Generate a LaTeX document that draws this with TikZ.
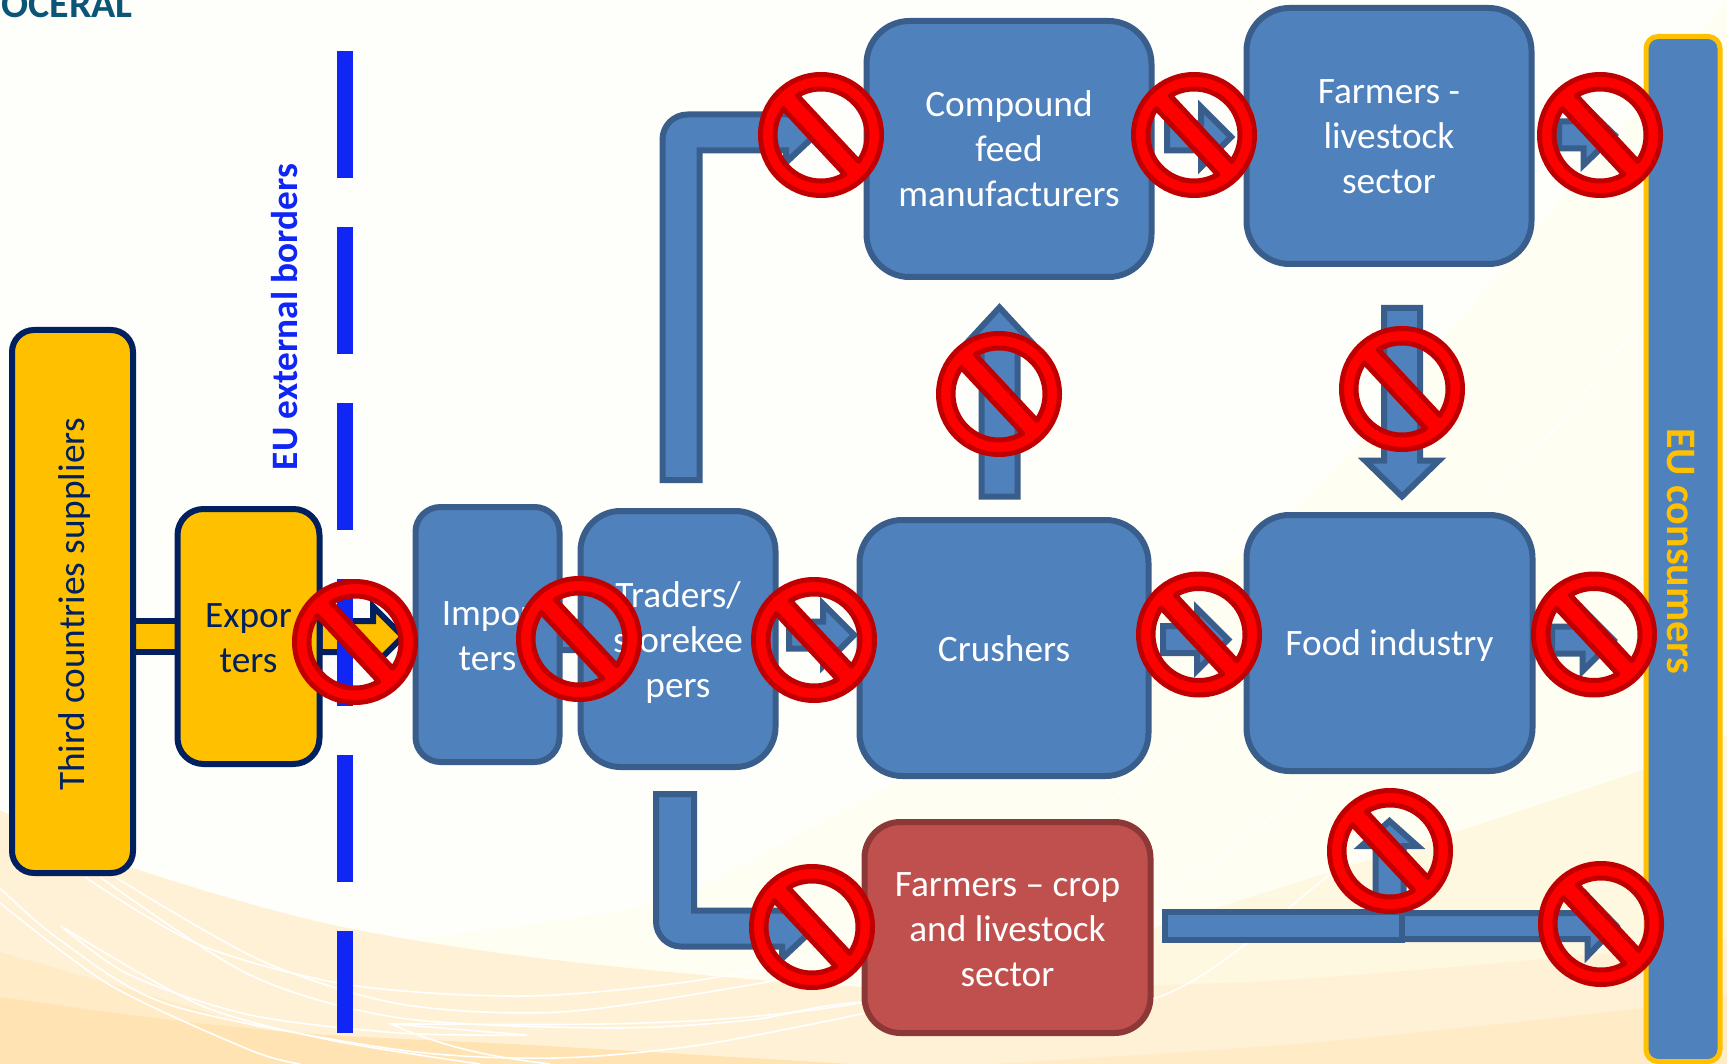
\documentclass[tikz,border=0pt]{standalone}
\usepackage{fontspec}
\setmainfont{Carlito}
\usetikzlibrary{calc}
\pgfdeclarelayer{backdrop}
\pgfdeclarelayer{conn}
\pgfsetlayers{backdrop,conn,main}
\definecolor{bgbase}{HTML}{FEFEFB}
\definecolor{bgd}{HTML}{FFFEF3}
\definecolor{bge}{HTML}{FFF8E0}
\definecolor{bgf}{HTML}{FFF1D6}
\definecolor{bgga}{HTML}{FFEBC6}
\definecolor{bggb}{HTML}{FFE3B3}
\definecolor{boxblue}{HTML}{4F81BD}
\definecolor{boxedge}{HTML}{3A5E8C}
\definecolor{gold}{HTML}{FFC000}
\definecolor{navy}{HTML}{002060}
\definecolor{cropred}{HTML}{C0504D}
\definecolor{cropedge}{HTML}{8C3836}
\definecolor{borderblue}{HTML}{1026F5}
\definecolor{logoteal}{HTML}{0B5577}
\definecolor{signred}{HTML}{FF0000}
\definecolor{signedge}{HTML}{C00000}
\tikzset{
  txt/.style={font=\fontsize{37.3}{45}\selectfont,align=center,inner sep=0pt,outer sep=0pt},
  bluebox/.style={inner sep=0pt,outer sep=0pt,draw=boxedge,fill=boxblue,line width=6pt},
  goldbox/.style={inner sep=0pt,outer sep=0pt,draw=navy,fill=gold,line width=6pt},
  redbox/.style={inner sep=0pt,outer sep=0pt,draw=cropedge,fill=cropred,line width=6pt},
  whitetxt/.style={txt,text=white,fill=none,draw=none},
  navytxt/.style={txt,text=navy,fill=none,draw=none},
  flow/.style={draw=boxedge,fill=boxblue,line width=6pt,miter limit=10},
  goldflow/.style={draw=navy,fill=gold,line width=6pt,miter limit=10},
  dashseg/.style={fill=borderblue},
  nosign/.style={draw=signedge,fill=signred,line width=5pt,line join=round,even odd rule},
  swoosh/.style={draw=white,line width=1.6pt},
}
% block arrows: start, tip, shaft half width, head half width, head length
\newcommand\arrowR[6][flow]{\draw[#1] let \p1=#2,\p2=#3 in
  (\x1,\y1+#4pt) -- (\x2-#6pt,\y1+#4pt) -- (\x2-#6pt,\y1+#5pt) -- (\x2,\y1) --
  (\x2-#6pt,\y1-#5pt) -- (\x2-#6pt,\y1-#4pt) -- (\x1,\y1-#4pt) -- cycle;}
\newcommand\arrowU[5]{\draw[flow] let \p1=#1,\p2=#2 in
  (\x1-#3pt,\y1) -- (\x1-#3pt,\y2-#5pt) -- (\x1-#4pt,\y2-#5pt) -- (\x1,\y2) --
  (\x1+#4pt,\y2-#5pt) -- (\x1+#3pt,\y2-#5pt) -- (\x1+#3pt,\y1) -- cycle;}
\newcommand\arrowD[5]{\draw[flow] let \p1=#1,\p2=#2 in
  (\x1-#3pt,\y1) -- (\x1-#3pt,\y2+#5pt) -- (\x1-#4pt,\y2+#5pt) -- (\x1,\y2) --
  (\x1+#4pt,\y2+#5pt) -- (\x1+#3pt,\y2+#5pt) -- (\x1+#3pt,\y1) -- cycle;}
\newcommand\nosign[3]{\coordinate (#1) at (#2,-#3);
  \path[nosign] (#1) circle (60.5pt)
   ($(#1)+(-35:46pt)$) arc[start angle=-35,end angle=121,radius=46pt] -- cycle
   ($(#1)+(145:46pt)$) arc[start angle=145,end angle=301,radius=46pt] -- cycle;}
\begin{document}
\begin{tikzpicture}[x=1pt,y=1pt]
\useasboundingbox (0,0) rectangle (1727,-1064);
\begin{pgfonlayer}{backdrop}
\fill[bgbase] (0,0) rectangle (1727,-1064);
\fill[bgd] plot[smooth] coordinates {(380,-950) (427,-938) (655,-903) (800,-834) (1000,-720) (1293,-510) (1510,-260) (1727,0)} -- (1727,-1064) -- (380,-1064) -- cycle;
\fill[bge] plot[smooth] coordinates {(1000,-980) (1188,-917) (1327,-873) (1453,-833) (1643,-770) (1727,-735)} -- (1727,-1064) -- (1000,-1064) -- cycle;
\fill[bgf] plot[smooth] coordinates {(0,-810) (133,-868) (333,-925) (555,-960) (866,-987) (1153,-985) (1327,-977) (1643,-950) (1727,-938)} -- (1727,-1064) -- (0,-1064) -- cycle;
\fill[bgga] plot[smooth] coordinates {(0,-952) (166,-1000) (300,-1040) (420,-1064)} -- (0,-1064) -- cycle;
\fill[bgga] plot[smooth] coordinates {(990,-1064) (1307,-1043) (1643,-1008) (1727,-995)} -- (1727,-1064) -- cycle;
\fill[bggb] plot[smooth] coordinates {(0,-997) (170,-1020) (330,-1035) (530,-1045) (850,-1064)} -- (0,-1064) -- cycle;
\draw[swoosh] plot[smooth] coordinates {(85,-877) (200,-945) (350,-985) (527,-996) (700,-980) (830,-950) (1000,-880) (1200,-730) (1482,-507) (1636,-327)};
\draw[swoosh] plot[smooth] coordinates {(100,-877) (250,-975) (400,-1018) (610,-1028) (750,-1020) (866,-1002) (1149,-1000) (1327,-877) (1425,-800) (1560,-660)};
\draw[swoosh] plot[smooth] coordinates {(115,-877) (260,-960) (400,-1004) (560,-1012) (750,-985) (866,-960) (1149,-900) (1327,-770) (1450,-660)};
\draw[swoosh] plot[smooth] coordinates {(0,-888) (60,-940) (170,-1005) (400,-1050) (555,-1058) (700,-1045) (866,-1013)};
\draw[swoosh] plot[smooth] coordinates {(61,-926) (200,-1005) (330,-1040) (480,-1064)};
\draw[swoosh] plot[smooth] coordinates {(61,-926) (130,-975) (250,-1015) (400,-1033) (527,-1035)};
\draw[swoosh] (527,-1035) -- (391,-1024) .. controls (450,-1050) and (500,-1058) .. (550,-1064);
\draw[swoosh] (391,-1024) .. controls (550,-1024) and (700,-1030) .. (866,-1002);
\draw[swoosh] plot[smooth] coordinates {(0,-903) (110,-985) (250,-1050) (300,-1064)};
\end{pgfonlayer}
% logo, cut by the top edge as in the picture
\node[anchor=base east,inner sep=0pt,text=logoteal,font=\fontsize{40}{40}\selectfont\bfseries] (logo) at (133,-18) {OCERAL};
% boxes
\node[goldbox,rounded corners=22pt,minimum width=121pt,minimum height=543pt,
  label={[navytxt,xshift=2pt,yshift=-3pt]center:{\rotatebox{90}{Third countries suppliers}}}] (third) at (72.5,-601.5) {};
\node[goldbox,rounded corners=26pt,minimum width=142pt,minimum height=255pt,
  label={[navytxt,yshift=-1.5pt]center:{Expor\\ters}}] (exp) at (248.5,-636.5) {};
\node[bluebox,rounded corners=25pt,minimum width=144pt,minimum height=255pt,
  label={[whitetxt,yshift=-1.5pt]center:{Impor\\ters}}] (imp) at (487.5,-634.5) {};
\node[bluebox,rounded corners=40pt,minimum width=195pt,minimum height=256pt,
  label={[whitetxt,yshift=-3.3pt]center:{Traders/\\storekee\\pers}}] (trad) at (678,-639) {};
\node[bluebox,rounded corners=43pt,minimum width=285pt,minimum height=256pt,
  label={[whitetxt]center:{Compound\\feed\\manufacturers}}] (comp) at (1009,-149) {};
\node[bluebox,rounded corners=43pt,minimum width=285pt,minimum height=256pt,
  label={[whitetxt,yshift=-1pt]center:{Farmers -\\livestock\\sector}}] (flm) at (1389,-136) {};
\node[bluebox,rounded corners=43pt,minimum width=289pt,minimum height=256pt,
  label={[whitetxt,yshift=-1pt]center:{Crushers}}] (crush) at (1004,-648) {};
\node[bluebox,rounded corners=43pt,minimum width=286pt,minimum height=256pt,
  label={[whitetxt,yshift=-3pt]center:{Food industry}}] (food) at (1389.5,-643) {};
\node[redbox,rounded corners=36pt,minimum width=286pt,minimum height=211pt,
  label={[whitetxt,yshift=-2pt]center:{Farmers – crop\\and livestock\\sector}}] (crop) at (1007.5,-927.5) {};
\node[draw=gold,fill=boxblue,line width=5pt,rounded corners=12pt,inner sep=0pt,outer sep=0pt,minimum width=74pt,minimum height=1025pt] (cons) at (1683,-549) {};
\node[inner sep=0pt,text=gold,font=\fontsize{42}{42}\selectfont\bfseries,rotate=-90] (eucons) at (1681,-551) {EU consumers};
\node[flow,inner sep=0pt,outer sep=0pt,minimum width=237pt,minimum height=28pt] (bar) at (1283,-926) {};
\node[inner sep=0pt,text=borderblue,font=\fontsize{37.3}{38}\selectfont\bfseries,rotate=90] (eub) at (285,-317) {EU external borders};
% connectors, under the boxes
\begin{pgfonlayer}{conn}
\draw[goldflow] ($(third.east |- exp.west)+(0,15.5)$) rectangle ($(exp.west)+(0,-15.5)$);
\arrowR[goldflow]{(exp.east)}{($(imp.west)+(-12.5,0)$)}{15.5}{30}{30}
\arrowR{($(imp.east)+(0,-1.5)$)}{($(trad.west)+(40,0)$)}{14}{30}{30}
\arrowR{($(trad.east)+(13.5,4)$)}{($(crush.west)+(-5.5,0)$)}{13.5}{31}{31}
\arrowR{($(crush.east)+(14.5,8.5)$)}{($(food.west)+(-18.5,0)$)}{13.5}{31}{31}
\arrowR{($(food.east)+(19.5,3)$)}{($(cons.west)+(-32.5,0)$)}{13.5}{31}{31}
\arrowR{($(comp.east)+(15.5,12)$)}{($(flm.west)+(-15.5,0)$)}{13.5}{30}{30}
\arrowR{($(flm.east)+(27.5,1)$)}{($(cons.west)+(-31.5,0)$)}{13.5}{30}{31}
\arrowU{($(crush.north)+(-4.5,23.5)$)}{($(comp.south)+(-9.5,-30.5)$)}{18}{38}{41}
\arrowD{($(flm.south)+(13,-44)$)}{($(food.north)+(12.5,18.5)$)}{18}{37}{36}
\draw[flow] let \p1=($(trad.north)+(-15.5,31)$),\p2=($(comp.west)+(-48.5,16.5)$) in
  (\x1,\y1) [rounded corners=25pt] -- (\x1,\y2+18pt) [sharp corners] -- (\x2-32pt,\y2+18pt) -- (\x2-32pt,\y2+30pt) -- (\x2,\y2) -- (\x2-32pt,\y2-30pt) -- (\x2-32pt,\y2-18pt) -- (\x1+37pt,\y2-18pt) -- (\x1+37pt,\y1) -- cycle;
\draw[flow] let \p1=($(trad.south)+(-22,-27)$),\p2=($(crop.west)+(-50.5,-1)$) in
  (\x1,\y1) [rounded corners=25pt] -- (\x1,\y2-18pt) [sharp corners] -- (\x2-32pt,\y2-18pt) -- (\x2-32pt,\y2-30pt) -- (\x2,\y2) -- (\x2-32pt,\y2+30pt) -- (\x2-32pt,\y2+18pt) -- (\x1+38pt,\y2+18pt) -- (\x1+38pt,\y1) -- cycle;
\arrowU{($(bar.north)+(106.5,0)$)}{($(food.south)+(0,-50)$)}{14}{28}{25}
\arrowR{(bar.east)}{($(cons.west)+(-29.5,0)$)}{13}{30}{29}
% border
\fill[dashseg] (337,-51) rectangle (353,-178);
\fill[dashseg] (337,-227) rectangle (353,-354);
\fill[dashseg] (337,-403) rectangle (353,-530);
\fill[dashseg] (337,-579) rectangle (353,-706);
\fill[dashseg] (337,-755) rectangle (353,-882);
\fill[dashseg] (337,-931) rectangle (353,-1033);
\end{pgfonlayer}
% prohibition signs
\nosign{s1}{355}{642}
\nosign{s2}{579}{639}
\nosign{s3}{814}{640}
\nosign{s4}{821}{135}
\nosign{s5}{1194}{135}
\nosign{s6}{1600}{135}
\nosign{s7}{999}{394}
\nosign{s8}{1402}{389}
\nosign{s9}{1199}{634.5}
\nosign{s10}{1594}{634.5}
\nosign{s11}{1390}{851}
\nosign{s12}{1601}{924}
\nosign{s13}{812}{927}
\end{tikzpicture}
\end{document}
